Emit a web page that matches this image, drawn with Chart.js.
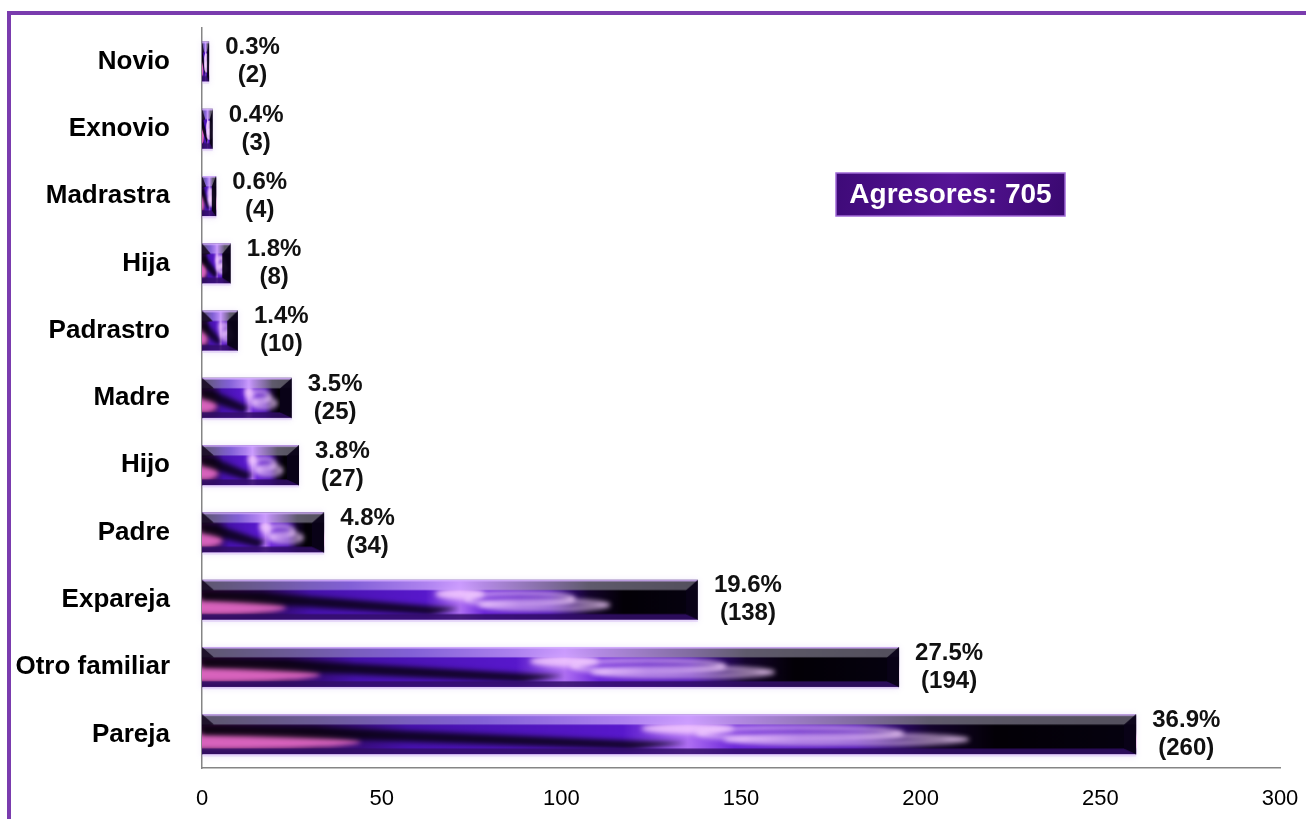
<!DOCTYPE html>
<html>
<head>
<meta charset="utf-8">
<script src="https://cdn.jsdelivr.net/npm/chart.js@4.4.1/dist/chart.umd.min.js"></script>
<style>
  html, body { margin: 0; padding: 0; background: #ffffff; }
  #wrap { position: relative; width: 1306px; height: 819px; }
  canvas { display: block; }
</style>
</head>
<body>
<div id="wrap"><canvas id="c" width="1306" height="819"></canvas></div>
<script>
// ---- data ----
const categories = ['Novio', 'Exnovio', 'Madrastra', 'Hija', 'Padrastro', 'Madre', 'Hijo', 'Padre', 'Expareja', 'Otro familiar', 'Pareja'];
const counts = [2, 3, 4, 8, 10, 25, 27, 34, 138, 194, 260];
const percents = ['0.3%', '0.4%', '0.6%', '1.8%', '1.4%', '3.5%', '3.8%', '4.8%', '19.6%', '27.5%', '36.9%'];
const xTickValues = [0, 50, 100, 150, 200, 250, 300];
const totalLabel = 'Agresores: 705';

const BAR_PCT = 0.6;
const FONT = '"Liberation Sans", Arial, Helvetica, sans-serif';

function paintTexture(w, h) {
  const c = document.createElement('canvas');
  c.width = w; c.height = h;
  const g = c.getContext('2d');
  const blur = Math.max(0.6, Math.min(w, h) * 0.06);
  let lg = g.createLinearGradient(0, 0, w, 0);
  lg.addColorStop(0.00, '#2a0830');
  lg.addColorStop(0.12, '#2a0850');
  lg.addColorStop(0.22, '#4612ac');
  lg.addColorStop(0.45, '#5818cc');
  lg.addColorStop(0.52, '#b070f4');
  lg.addColorStop(0.57, '#6a24d8');
  lg.addColorStop(0.70, '#4a10b0');
  lg.addColorStop(0.78, '#14042c');
  lg.addColorStop(0.85, '#030006');
  lg.addColorStop(1.00, '#060210');
  g.fillStyle = lg;
  g.fillRect(0, 0, w, h);

  g.save();
  g.filter = 'blur(' + blur.toFixed(1) + 'px)';
  g.fillStyle = 'rgba(226,104,196,0.95)';
  g.beginPath();
  g.ellipse(w * 0.02, h * 0.68, w * 0.15, h * 0.2, 0, 0, Math.PI * 2);
  g.fill();
  g.fillStyle = 'rgba(4,0,8,0.8)';
  g.beginPath();
  g.moveTo(0, h * 0.30);
  g.lineTo(w * 0.12, h * 0.32);
  g.lineTo(w * 0.52, h * 0.72);
  g.lineTo(w * 0.46, h * 0.88);
  g.lineTo(w * 0.05, h * 0.55);
  g.lineTo(0, h * 0.52);
  g.closePath();
  g.fill();
  g.fillStyle = 'rgba(242,200,255,0.9)';
  g.beginPath();
  g.ellipse(w * 0.52, h * 0.36, w * 0.05, h * 0.14, 0, 0, Math.PI * 2);
  g.fill();
  g.strokeStyle = 'rgba(244,208,255,0.85)';
  g.lineWidth = Math.max(1, h * 0.09);
  g.beginPath();
  g.ellipse(w * 0.64, h * 0.48, w * 0.11, h * 0.14, 0, 0, Math.PI * 2);
  g.stroke();
  g.beginPath();
  g.ellipse(w * 0.69, h * 0.63, w * 0.13, h * 0.10, 0, 0, Math.PI * 2);
  g.stroke();
  g.restore();

  let tg = g.createLinearGradient(0, 0, w, 0);
  tg.addColorStop(0.0, 'rgba(100,96,118,0.9)');
  tg.addColorStop(0.30, 'rgba(140,110,220,0.85)');
  tg.addColorStop(0.52, 'rgba(206,160,255,0.9)');
  tg.addColorStop(0.78, 'rgba(104,100,116,0.9)');
  tg.addColorStop(1.0, 'rgba(92,88,102,0.9)');
  g.fillStyle = tg;
  g.fillRect(0, 0, w, h * 0.26);
  g.fillStyle = 'rgba(214,176,255,0.9)';
  g.fillRect(0, 0, w, Math.max(1, h * 0.04));
  g.fillStyle = 'rgba(50,14,104,0.85)';
  g.fillRect(0, h * 0.86, w, h * 0.14);
  const bv = Math.min(w * 0.3, h * 0.3);
  g.fillStyle = 'rgba(10,2,24,0.95)';
  g.beginPath();
  g.moveTo(w, 0);
  g.lineTo(w - bv, h * 0.26);
  g.lineTo(w - bv, h * 0.86);
  g.lineTo(w, h);
  g.closePath();
  g.fill();
  g.fillStyle = 'rgba(20,6,30,0.85)';
  g.beginPath();
  g.moveTo(0, 0);
  g.lineTo(bv, h * 0.26);
  g.lineTo(0, h * 0.3);
  g.closePath();
  g.fill();
  return c;
}

function barFill(ctx) {
  const chart = ctx.chart;
  const xs = chart.scales.x, ys = chart.scales.y;
  if (!xs || !ys || ctx.type !== 'data') return '#4a12b0';
  const x0 = xs.getPixelForValue(0);
  const x1 = xs.getPixelForValue(ctx.raw);
  const band = Math.abs(ys.getPixelForValue(1) - ys.getPixelForValue(0));
  const yc = ys.getPixelForValue(ctx.dataIndex);
  const h = band * BAR_PCT;
  const w = Math.round(x1 - x0);
  if (!isFinite(w) || !isFinite(h) || w < 1 || h < 1) return '#4a12b0';
  const tex = paintTexture(Math.max(2, w), Math.max(2, Math.round(h)));
  const p = chart.ctx.createPattern(tex, 'repeat');
  p.setTransform(new DOMMatrix([1, 0, 0, 1, x0, yc - h / 2]));
  return p;
}

const framePlugin = {
  id: 'frame',
  beforeDraw(chart) {
    const c = chart.ctx;
    c.save();
    c.fillStyle = '#ffffff';
    c.fillRect(0, 0, chart.width, chart.height);
    c.fillStyle = '#7a3cae';
    c.fillRect(7, 11, chart.width, 4);
    c.fillRect(7, 11, 4, chart.height);
    c.restore();
  },
  beforeDatasetsDraw(chart) {
    const c = chart.ctx;
    const meta = chart.getDatasetMeta(0);
    c.save();
    c.shadowColor = 'rgba(170,130,230,0.55)';
    c.shadowBlur = 6;
    c.fillStyle = 'rgba(200,170,240,0.35)';
    meta.data.forEach(el => {
      c.fillRect(el.base, el.y - el.height / 2, el.x - el.base, el.height + 2);
    });
    c.restore();
  }
};

const labelPlugin = {
  id: 'barLabels',
  afterDatasetsDraw(chart) {
    const c = chart.ctx;
    const meta = chart.getDatasetMeta(0);
    c.save();
    c.font = 'bold 24px ' + FONT;
    c.fillStyle = '#111111';
    c.textAlign = 'center';
    c.textBaseline = 'middle';
    meta.data.forEach((el, i) => {
      const w1 = c.measureText(percents[i]).width;
      const cx = el.x + 16 + w1 / 2;
      c.fillText(percents[i], cx, el.y - 14);
      c.fillText('(' + counts[i] + ')', cx, el.y + 14);
    });
    const bx = 836, by = 173, bw = 229, bh = 43;
    const bg = c.createLinearGradient(bx, by, bx + bw, by + bh);
    bg.addColorStop(0, '#3e0a78');
    bg.addColorStop(0.5, '#561496');
    bg.addColorStop(1, '#3a0870');
    c.fillStyle = bg;
    c.fillRect(bx, by, bw, bh);
    c.strokeStyle = '#a06ad6';
    c.lineWidth = 1.5;
    c.strokeRect(bx, by, bw, bh);
    c.fillStyle = '#ffffff';
    c.font = 'bold 28px ' + FONT;
    c.fillText(totalLabel, bx + bw / 2, by + bh / 2 + 1);
    c.restore();
  }
};

new Chart(document.getElementById('c'), {
  type: 'bar',
  data: {
    labels: categories,
    datasets: [{
      data: counts,
      backgroundColor: barFill,
      borderWidth: 0,
      categoryPercentage: 1,
      barPercentage: BAR_PCT
    }]
  },
  options: {
    indexAxis: 'y',
    responsive: false,
    animation: false,
    layout: { padding: { top: 28, right: 26, left: 0, bottom: 0 } },
    plugins: { legend: { display: false }, tooltip: { enabled: false } },
    scales: {
      x: {
        min: 0, max: 300,
        afterBuildTicks(s) { s.ticks = xTickValues.map(v => ({ value: v })); },
        afterFit(s) { s.height = 51; s.paddingLeft = 0; s.paddingRight = 0; },
        grid: { display: false, drawTicks: false },
        border: { display: true, color: '#858585', width: 1.5 },
        ticks: { color: '#000000', font: { family: FONT, size: 22 }, padding: 18, maxRotation: 0 }
      },
      y: {
        afterFit(s) { s.width = 202; s.paddingTop = 0; s.paddingBottom = 0; },
        grid: { display: false, drawTicks: false },
        border: { display: true, color: '#858585', width: 1.5 },
        ticks: { color: '#000000', font: { family: FONT, size: 26, weight: 'bold' }, padding: 32 }
      }
    }
  },
  plugins: [framePlugin, labelPlugin]
});
</script>
</body>
</html>
